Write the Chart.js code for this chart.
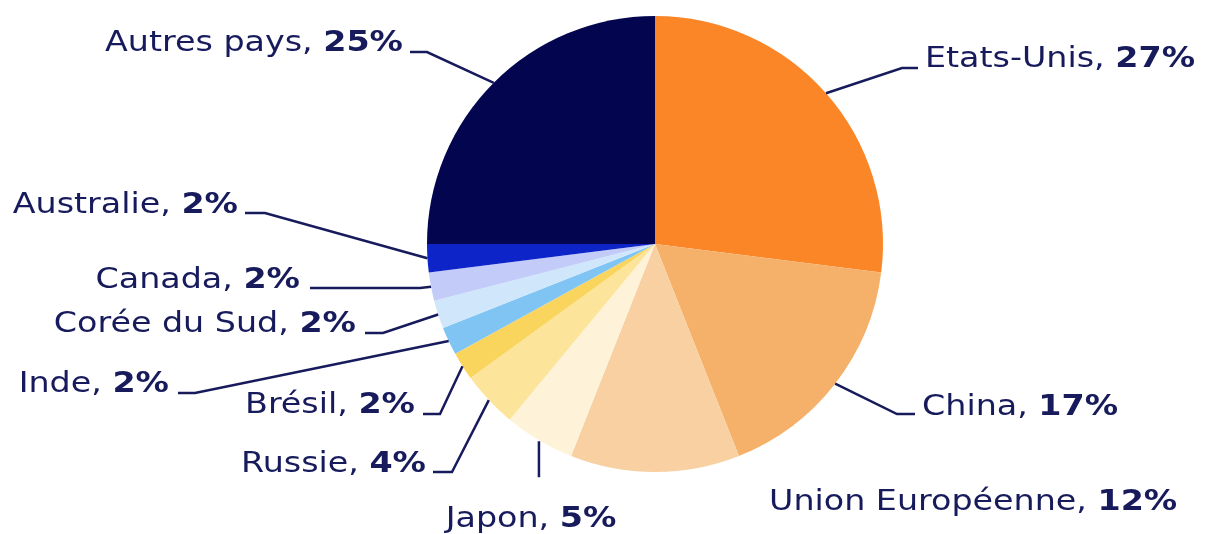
<!DOCTYPE html>
<html>
<head>
<meta charset="utf-8">
<script src="https://cdn.jsdelivr.net/npm/chart.js@4"></script>
<style>
  html, body { margin: 0; padding: 0; background: #fff; }
  #wrap { width: 1206px; height: 534px; position: relative; }
</style>
</head>
<body>
<div id="wrap"><canvas id="pieChart" width="1206" height="534"></canvas></div>
<script>
// data
var countries = ['Etats-Unis', 'China', 'Union Européenne', 'Japon', 'Russie', 'Brésil',
  'Inde', 'Corée du Sud', 'Canada', 'Australie', 'Autres pays'];
var shares = [27, 17, 12, 5, 4, 2, 2, 2, 2, 2, 25];
var sliceColors = ['#fb8628', '#f5b16a', '#f8d0a1', '#fef3d8', '#fce59b', '#fad55e',
  '#80c4f4', '#cfe6fb', '#c3ccf8', '#0d24c9', '#03064f'];

// label placement: text x, baseline y, align, leader line [elbowX, elbowY, endX] or null
var labelPos = [
  { x: 925, y: 67, align: 'left', line: [902, 68, 918] },
  { x: 922, y: 415, align: 'left', line: [897, 414, 915] },
  { x: 769, y: 510, align: 'left', line: null },
  { x: 531, y: 527, align: 'center', line: 'down' },
  { x: 426, y: 472, align: 'right', line: [452, 472, 433] },
  { x: 415, y: 413, align: 'right', line: [440, 414, 423] },
  { x: 169, y: 392, align: 'right', line: [195, 393, 178] },
  { x: 356, y: 332, align: 'right', line: [383, 333, 365] },
  { x: 300, y: 288, align: 'right', line: [420, 288, 310] },
  { x: 238, y: 213, align: 'right', line: [265, 213, 245] },
  { x: 403, y: 51, align: 'right', line: [427, 52, 410] }
];

var textColor = '#171b5c';
var fontFamily = '"DejaVu Sans", sans-serif';
var fontSize = 28;
var stretch = 1.19;

var labelPlugin = {
  id: 'pieLabels',
  afterDraw: function (chart) {
    var ctx = chart.ctx;
    var meta = chart.getDatasetMeta(0);
    ctx.save();
    ctx.strokeStyle = textColor;
    ctx.lineWidth = 2.5;
    ctx.textBaseline = 'alphabetic';
    meta.data.forEach(function (arc, i) {
      var p = labelPos[i];
      var mid = (arc.startAngle + arc.endAngle) / 2;
      var ax = arc.x + Math.cos(mid) * arc.outerRadius;
      var ay = arc.y + Math.sin(mid) * arc.outerRadius;
      if (p.line === 'down') {
        ctx.beginPath();
        ctx.moveTo(ax, ay + 1);
        ctx.lineTo(ax, ay + 37);
        ctx.stroke();
      } else if (p.line) {
        ctx.beginPath();
        ctx.moveTo(ax, ay);
        ctx.lineTo(p.line[0], p.line[1]);
        ctx.lineTo(p.line[2], p.line[1]);
        ctx.stroke();
      }
      var normal = countries[i] + ', ';
      var bold = shares[i] + '%';
      ctx.font = '400 ' + fontSize + 'px ' + fontFamily;
      var w1 = ctx.measureText(normal).width;
      ctx.font = '700 ' + fontSize + 'px ' + fontFamily;
      var w2 = ctx.measureText(bold).width;
      var total = (w1 + w2) * stretch;
      var x0 = p.x;
      if (p.align === 'right') x0 = p.x - total;
      if (p.align === 'center') x0 = p.x - total / 2;
      ctx.save();
      ctx.translate(x0, p.y);
      ctx.scale(stretch, 1);
      ctx.textAlign = 'left';
      ctx.fillStyle = textColor;
      ctx.font = '400 ' + fontSize + 'px ' + fontFamily;
      ctx.fillText(normal, 0, 0);
      ctx.font = '700 ' + fontSize + 'px ' + fontFamily;
      ctx.fillText(bold, w1, 0);
      ctx.restore();
    });
    ctx.restore();
  }
};

var ctx = document.getElementById('pieChart').getContext('2d');
var myChart = new Chart(ctx, {
  type: 'pie',
  data: {
    labels: countries,
    datasets: [{
      data: shares,
      backgroundColor: sliceColors,
      borderWidth: 0
    }]
  },
  options: {
    responsive: false,
    animation: false,
    layout: { padding: { left: 200, right: 96, top: 16, bottom: 62 } },
    plugins: {
      legend: { display: false },
      tooltip: { enabled: false }
    }
  },
  plugins: [labelPlugin]
});
</script>
</body>
</html>
